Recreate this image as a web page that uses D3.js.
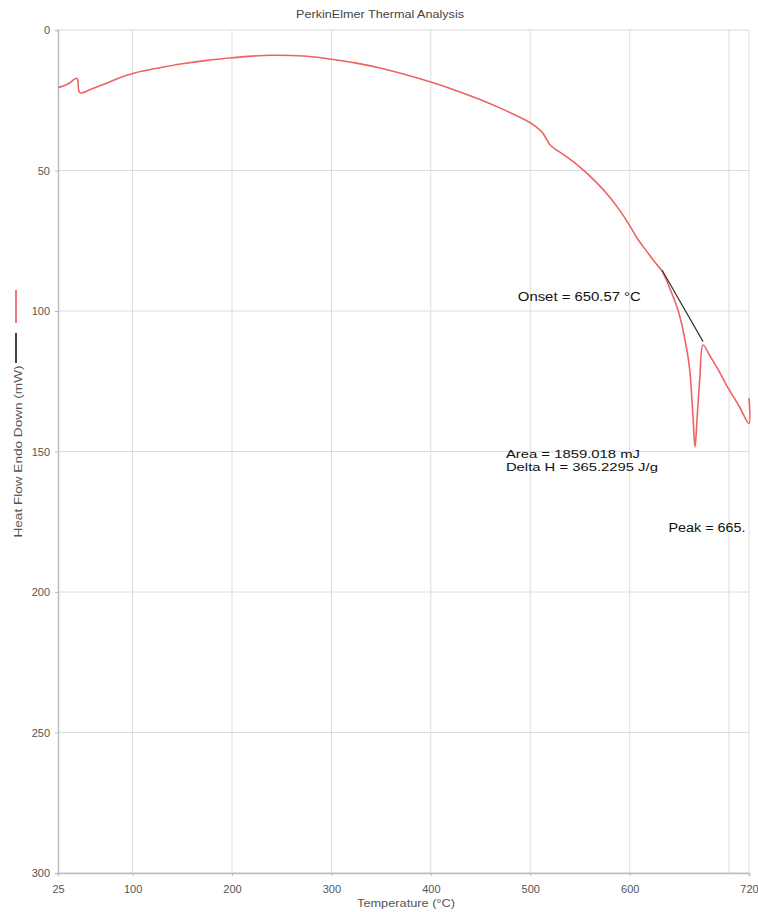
<!DOCTYPE html>
<html>
<head>
<meta charset="utf-8">
<script src="https://cdn.jsdelivr.net/npm/d3@7/dist/d3.min.js"></script>
<style>
  html, body { margin: 0; padding: 0; background: #fff; }
  svg { display: block; font-family: "Liberation Sans", Arial, sans-serif; }
</style>
</head>
<body>
<svg id="chart" width="758" height="912"></svg>
<script>
// ---- data ----
const temperature = [25, 35, 44, 47, 60, 75, 87, 102, 125, 150, 175, 200, 220, 240, 260, 280, 300, 325, 350, 375, 400, 425, 450, 475, 500, 507, 512, 516, 520, 535, 550, 567, 580, 590, 600, 608, 617, 625, 632.5, 635.5, 641, 647.6, 652, 655.6, 658.5, 660.7, 663.7, 665.7, 668, 670.5, 673.8, 680, 690, 698, 710, 720, 720];
const heatFlow    = [20.5, 19.2, 17.2, 22.3, 20.8, 18.8, 17.0, 15.3, 13.6, 12.0, 10.8, 9.9, 9.3, 9.0, 9.1, 9.5, 10.4, 11.8, 13.6, 15.9, 18.5, 21.5, 24.8, 28.6, 33.0, 34.8, 36.4, 38.6, 40.9, 44.7, 48.8, 54.4, 59.5, 64.2, 69.6, 74.4, 78.7, 82.5, 85.8, 87.9, 92.5, 98.6, 104.2, 110.3, 116.0, 122.0, 137.7, 148.4, 137.0, 124.0, 112.1, 115.5, 121.5, 126.8, 133.8, 140.0, 131.0];
const tangentT = [632.5, 673.8];
const tangentV = [85.4, 110.9];
const xTickLabels = [25, 100, 200, 300, 400, 500, 600, 720];
const xGrid = [100, 200, 300, 400, 500, 600, 700, 720];
const yTicks = [0, 50, 100, 150, 200, 250, 300];
const titleText = "PerkinElmer Thermal Analysis";
const xLabel = "Temperature (°C)";
const yLabel = "Heat Flow Endo Down (mW)";
const onsetText = "Onset = 650.57 °C";
const areaText = "Area = 1859.018 mJ";
const deltaHText = "Delta H = 365.2295 J/g";
const peakText = "Peak = 665.";

// ---- layout ----
const svg = d3.select("#chart");
const mLeft = 58, mRight = 749, mTop = 30, mBottom = 873;
const x = d3.scaleLinear().domain([25, 720]).range([mLeft, mRight]);
const y = d3.scaleLinear().domain([0, 300]).range([mTop, mBottom]);

const gridColor = "#dcdcdc";
const axisColor = "#bdbdbd";
const tickText = "#555";
const fam = "Liberation Sans, Arial, sans-serif";

// title
svg.append("text").attr("x", 380).attr("y", 18).attr("text-anchor", "middle")
  .attr("font-size", 11).attr("fill", "#444")
  .attr("textLength", 168).attr("lengthAdjust", "spacingAndGlyphs").text(titleText);

// gridlines
svg.append("g").selectAll("line").data(xGrid).join("line")
  .attr("x1", d => x(d)).attr("x2", d => x(d)).attr("y1", mTop).attr("y2", mBottom)
  .attr("stroke", gridColor).attr("stroke-width", 1);
svg.append("g").selectAll("line").data(yTicks).join("line")
  .attr("x1", mLeft).attr("x2", mRight).attr("y1", d => y(d)).attr("y2", d => y(d))
  .attr("stroke", gridColor).attr("stroke-width", 1);

// axes
const yAxis = d3.axisLeft(y).tickValues(yTicks).tickSize(3).tickPadding(5);
const gy = svg.append("g").attr("transform", `translate(${mLeft},0)`).call(yAxis);
gy.select(".domain").attr("stroke", axisColor).attr("stroke-width", 1.5);
gy.selectAll(".tick line").attr("stroke", axisColor);
gy.selectAll(".tick text").attr("fill", tickText).attr("font-size", 11).attr("font-family", fam);

const xAxis = d3.axisBottom(x).tickValues(xTickLabels).tickSize(3).tickPadding(9);
const gx = svg.append("g").attr("transform", `translate(0,${mBottom})`).call(xAxis);
gx.select(".domain").attr("stroke", axisColor).attr("stroke-width", 1.5);
gx.selectAll(".tick line").attr("stroke", axisColor);
gx.selectAll(".tick text").attr("fill", tickText).attr("font-size", 11).attr("font-family", fam);

// axis labels
svg.append("text").attr("x", 406).attr("y", 907).attr("text-anchor", "middle")
  .attr("font-size", 10).attr("fill", "#555")
  .attr("textLength", 98).attr("lengthAdjust", "spacingAndGlyphs").text(xLabel);
svg.append("text").attr("transform", `translate(22,${(mTop + mBottom) / 2}) rotate(-90)`)
  .attr("text-anchor", "middle").attr("font-size", 10.5).attr("fill", "#555")
  .attr("textLength", 172).attr("lengthAdjust", "spacingAndGlyphs").text(yLabel);

// legend swatches (vertical)
svg.append("line").attr("x1", 16).attr("x2", 16).attr("y1", 290).attr("y2", 323)
  .attr("stroke", "#f07a7a").attr("stroke-width", 2);
svg.append("line").attr("x1", 16).attr("x2", 16).attr("y1", 333).attr("y2", 363)
  .attr("stroke", "#444").attr("stroke-width", 2);

// clip
svg.append("clipPath").attr("id", "plotclip").append("rect")
  .attr("x", mLeft).attr("y", mTop).attr("width", mRight - mLeft + 2).attr("height", mBottom - mTop);

// curve
const pts = temperature.map((t, i) => [t, heatFlow[i]]);
const smooth = d3.line().x(d => x(d[0])).y(d => y(d[1])).curve(d3.curveCatmullRom.alpha(0.5));
const straight = d3.line().x(d => x(d[0])).y(d => y(d[1]));
svg.append("path").datum(pts).attr("d", smooth).attr("clip-path", "url(#plotclip)")
  .attr("fill", "none").attr("stroke", "#f06262").attr("stroke-width", 1.6)
  .attr("stroke-linejoin", "round");

// tangent
const tpts = tangentT.map((t, i) => [t, tangentV[i]]);
svg.append("path").datum(tpts).attr("d", straight)
  .attr("fill", "none").attr("stroke", "#333").attr("stroke-width", 1.2);

// annotations
const ann = svg.append("g").attr("font-size", 12).attr("fill", "#111").attr("font-family", fam);
ann.append("text").attr("x", x(487.5)).attr("y", y(96.6))
  .attr("textLength", 123).attr("lengthAdjust", "spacingAndGlyphs").text(onsetText);
ann.append("text").attr("x", x(475.5)).attr("y", y(152.2)).attr("font-size", 11.5)
  .attr("textLength", 134).attr("lengthAdjust", "spacingAndGlyphs").text(areaText);
ann.append("text").attr("x", x(475.5)).attr("y", y(157.0)).attr("font-size", 11.5)
  .attr("textLength", 152).attr("lengthAdjust", "spacingAndGlyphs").text(deltaHText);
ann.append("text").attr("x", x(639)).attr("y", y(178.6))
  .attr("textLength", 77).attr("lengthAdjust", "spacingAndGlyphs").text(peakText);
</script>
</body>
</html>
